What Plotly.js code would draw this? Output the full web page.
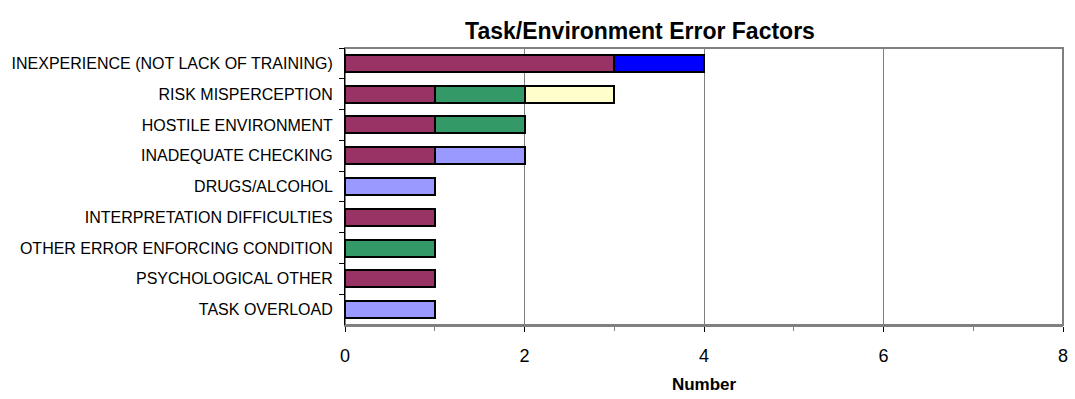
<!DOCTYPE html>
<html>
<head>
<meta charset="utf-8">
<script src="https://cdn.plot.ly/plotly-3.0.1.min.js"></script>
<style>html,body{margin:0;padding:0;background:#fff;}#chart{width:1075px;height:399px;}</style>
</head>
<body>
<div id="chart"></div>
<script>
const categories = [
  "INEXPERIENCE (NOT LACK OF TRAINING)",
  "RISK MISPERCEPTION",
  "HOSTILE ENVIRONMENT",
  "INADEQUATE CHECKING",
  "DRUGS/ALCOHOL",
  "INTERPRETATION DIFFICULTIES",
  "OTHER ERROR ENFORCING CONDITION",
  "PSYCHOLOGICAL OTHER",
  "TASK OVERLOAD"
];
const seriesMaroon   = [3, 1, 1, 1, 0, 1, 0, 1, 0];
const seriesGreen    = [0, 1, 1, 0, 0, 0, 1, 0, 0];
const seriesLavender = [0, 0, 0, 1, 1, 0, 0, 0, 1];
const seriesYellow   = [0, 1, 0, 0, 0, 0, 0, 0, 0];
const seriesBlue     = [1, 0, 0, 0, 0, 0, 0, 0, 0];
const xTickVals = [0, 2, 4, 6, 8];

const colors = ["#993366", "#339966", "#9999FF", "#FFFFCC", "#0000FF"];
const seriesList = [seriesMaroon, seriesGreen, seriesLavender, seriesYellow, seriesBlue];

const traces = seriesList.map((vals, i) => ({
  type: "bar",
  orientation: "h",
  y: categories,
  x: vals.map(v => v === 0 ? null : v),
  marker: {color: colors[i], line: {color: "#000", width: 2}},
  width: 0.55,
  hoverinfo: "x+y"
}));

const layout = {
  width: 1075, height: 399,
  margin: {l: 345, r: 12, t: 48, b: 74},
  paper_bgcolor: "#fff", plot_bgcolor: "#fff",
  barmode: "stack",
  showlegend: false,
  font: {family: "Liberation Sans, Arial, sans-serif", color: "#000"},
  title: {
    text: "<b>Task/Environment Error Factors</b>",
    font: {size: 23, family: "Liberation Sans, Arial, sans-serif", color: "#000"},
    x: 640 / 1075, xanchor: "center", xref: "container",
    y: 1 - 31 / 399, yanchor: "middle", yref: "container"
  },
  xaxis: {
    range: [0, 8],
    tickvals: xTickVals,
    ticktext: xTickVals.map(String),
    ticks: "outside", ticklen: 5, tickcolor: "#000", tickwidth: 1,
    minor: {dtick: 1, tick0: 0, ticks: "outside", ticklen: 4, tickcolor: "#808080", showgrid: false},
    showgrid: true, gridcolor: "#808080", gridwidth: 1,
    showline: true, linecolor: "#808080", linewidth: 2,
    zeroline: false,
    tickfont: {size: 18, color: "#000"},
    ticklabelstandoff: 8,
    title: {text: "<b>Number</b>", font: {size: 17, color: "#000"}, standoff: 14},
    fixedrange: true
  },
  yaxis: {
    type: "category",
    autorange: "reversed",
    tickson: "boundaries",
    ticks: "outside", ticklen: 5, tickcolor: "#000", tickwidth: 1,
    showline: true, linecolor: "#000", linewidth: 1,
    showgrid: false, zeroline: false,
    tickfont: {size: 16, color: "#000"},
    ticklabelstandoff: 8,
    fixedrange: true
  },
  shapes: [{
    type: "rect", xref: "paper", yref: "paper",
    x0: 0, x1: 1, y0: 0, y1: 1,
    line: {color: "#808080", width: 2},
    layer: "below"
  }]
};

Plotly.newPlot("chart", traces, layout, {staticPlot: true, displayModeBar: false});
</script>
</body>
</html>
